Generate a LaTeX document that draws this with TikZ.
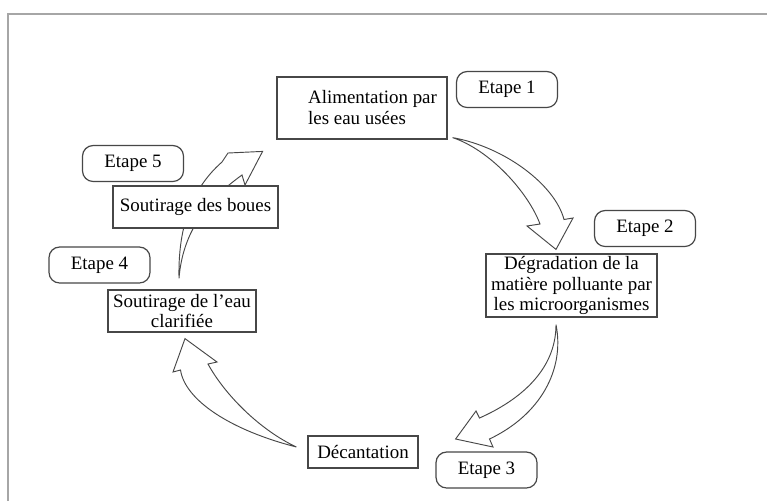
\documentclass[tikz,border=0pt]{standalone}
\usepackage{fontspec}
\setmainfont{Liberation Serif}
\usetikzlibrary{backgrounds}
\begin{document}
\begin{tikzpicture}[x=0.75pt,y=-0.75pt,
  txtfont/.style={font=\fontsize{14.2}{15.6}\selectfont},
  box/.style={draw=black!72, line width=0.9pt, fill=white, inner sep=1pt, align=center, txtfont},
  plain/.style={inner sep=1pt, txtfont},
  etape/.style={draw=black!72, line width=0.9pt, fill=white, rounded corners=8pt, inner sep=1pt,
    minimum width={101*0.75pt}, minimum height={36*0.75pt}, txtfont},
  arr/.style={draw=black!72, fill=white, line width=0.7pt, line join=miter},
  frameline/.style={draw=black!35, line width=1.5pt}]
\useasboundingbox (0,0) rectangle (767,501);

% step boxes
\node[box, minimum width={170*0.75pt}, minimum height={62*0.75pt}] (b1) at (362,108) {};
\node[plain, anchor=west, align=left] (t1) at (306.5,107.5) {Alimentation par\\les eau usées};
\node[box, minimum width={171*0.75pt}, minimum height={63*0.75pt}] (b2) at (571.5,285.5)
  {Dégradation de la\\matière polluante par\\les microorganismes};
\node[box, minimum width={110*0.75pt}, minimum height={32*0.75pt}] (b3) at (363,452) {Décantation};
\node[box, minimum width={148*0.75pt}, minimum height={42*0.75pt}] (b4) at (182,311)
  {Soutirage de l’eau\\clarifiée};
\node[box, minimum width={165*0.75pt}, minimum height={42*0.75pt}] (b5) at (195.5,207) {Soutirage des boues};

% step labels
\node[etape] (e1) at (507,89.5) {Etape 1};
\node[etape] (e2) at (645,228.5) {Etape 2};
\node[etape] (e3) at (486.5,470) {Etape 3};
\node[etape] (e4) at (99.5,265) {Etape 4};
\node[etape] (e5) at (133,163.5) {Etape 5};

% arrow ends
\coordinate (a1s) at ([shift={(5,-2)}]b1.south east);
\coordinate (a1e) at ([shift={(-15.5,-4)}]b2.north);
\coordinate (a2s) at ([shift={(-15.5,7)}]b2.south);
\coordinate (a2e) at ([shift={(37,-13)}]b3.east);
\coordinate (a3s) at ([shift={(-11,-5)}]b3.west);
\coordinate (a3e) at ([shift={(3,6)}]b4.south);
\coordinate (a4s) at ([shift={(-3,-11)}]b4.north);
\coordinate (a4e) at ([shift={(-16,-34)}]b5.north east);

\begin{scope}[on background layer]
\fill[white] (0,0) rectangle (767,501);
\draw[frameline] (8,501) -- (8,14) -- (767,14);
% 1 -> 2
\draw[arr] (a1s) .. controls (505,147) and (555,185) .. (564,219.5) -- (573,218) -- (a1e)
  -- (527,226) -- (540,224) .. controls (528,192) and (490,150) .. (a1s) -- cycle;
% 2 -> 3
\draw[arr] (a2s) .. controls (556,370) and (520,400) .. (479.5,418) -- (476,411) -- (a2e)
  -- (493,447) -- (489.5,439) .. controls (540,415) and (565,370) .. (a2s) -- cycle;
% 3 -> 4
\draw[arr] (a3s) .. controls (230,430) and (185,400) .. (180.5,370) -- (173,372) -- (a3e)
  -- (217,362) -- (208,364) .. controls (225,395) and (260,430) .. (a3s) -- cycle;
% 4 -> 5
\draw[arr] (a4s) .. controls (178,230) and (190,190) .. (222,162) -- (228,153) -- (a4e)
  -- (245,185) -- (242,175) .. controls (200,205) and (182,240) .. (a4s) -- cycle;
\end{scope}
\end{tikzpicture}
\end{document}
